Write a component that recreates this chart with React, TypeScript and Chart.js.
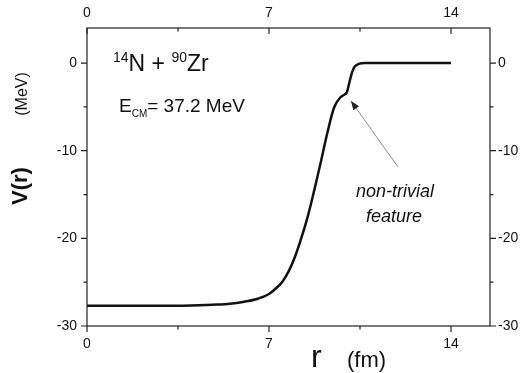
import React, { useEffect, useRef } from "react";
import { Chart, registerables } from "chart.js";

Chart.register(...registerables);

// ---- data ----
const rValues = [0, 1, 2, 3, 4, 5, 5.5, 6, 6.5, 7, 7.25, 7.5, 7.75, 8, 8.25, 8.5, 8.75, 9, 9.25, 9.5, 9.75, 9.9, 10, 10.1, 10.2, 10.3, 10.45, 10.7, 12, 14];
const vValues = [-27.7, -27.7, -27.7, -27.7, -27.65, -27.55, -27.45, -27.25, -26.95, -26.35, -25.75, -25.0, -23.8, -22.1, -19.9, -17.4, -14.4, -11.2, -7.9, -5.1, -3.9, -3.6, -3.3, -2.1, -1.0, -0.4, -0.1, 0, 0, 0];

const xTicks = [0, 7, 14];
const xMinorTicks = [3.5, 10.5];
const yTicks = [-30, -20, -10, 0];
const yMinorTicks = [-25, -15, -5];
const xRange = [0, 15.5];
const yRange = [-30, 4];

const FONT = "'Liberation Sans', Arial, sans-serif";

const overlayPlugin = {
  id: "overlay",
  afterDraw(chart: any) {
    const { ctx, chartArea } = chart;
    const { left, right, top, bottom } = chartArea;
    const xs = chart.scales.x;
    const ys = chart.scales.y;
    ctx.save();
    // frame
    ctx.strokeStyle = "#222";
    ctx.lineWidth = 1.2;
    ctx.strokeRect(left, top, right - left, bottom - top);

    const MAJ = 6;
    const MIN = 3.5;
    ctx.beginPath();
    const hTick = (v: number, len: number) => {
      const px = xs.getPixelForValue(v);
      ctx.moveTo(px, bottom);
      ctx.lineTo(px, bottom + len);
      ctx.moveTo(px, top);
      ctx.lineTo(px, top + len);
    };
    const vTick = (v: number, len: number) => {
      const py = ys.getPixelForValue(v);
      ctx.moveTo(left, py);
      ctx.lineTo(left - len, py);
      ctx.moveTo(right, py);
      ctx.lineTo(right + len, py);
    };
    xTicks.forEach((v) => hTick(v, MAJ));
    xMinorTicks.forEach((v) => hTick(v, MIN));
    yTicks.forEach((v) => vTick(v, MAJ));
    yMinorTicks.forEach((v) => vTick(v, MIN));
    ctx.stroke();

    ctx.fillStyle = "#111";
    ctx.textBaseline = "alphabetic";

    // 14N + 90Zr
    let x = 113;
    const by = 71;
    const big = `23px ${FONT}`;
    const sup = `14px ${FONT}`;
    const seg = (t: string, f: string, dy: number) => {
      ctx.font = f;
      ctx.textAlign = "left";
      ctx.fillText(t, x, by + dy);
      x += ctx.measureText(t).width;
    };
    seg("14", sup, -9);
    seg("N + ", big, 0);
    seg("90", sup, -9);
    seg("Zr", big, 0);

    // E_CM = 37.2 MeV
    x = 119;
    const by2 = 112;
    ctx.font = `19px ${FONT}`;
    ctx.fillText("E", x, by2);
    x += ctx.measureText("E").width;
    ctx.font = `10px ${FONT}`;
    ctx.fillText("CM", x, by2 + 5);
    x += ctx.measureText("CM").width;
    ctx.font = `19px ${FONT}`;
    ctx.fillText("= 37.2 MeV", x, by2);

    // non-trivial feature
    ctx.font = `italic 18px ${FONT}`;
    ctx.textAlign = "center";
    ctx.fillText("non-trivial", 395, 197);
    ctx.fillText("feature", 394, 222);

    // arrow
    const x0 = 398, y0 = 167, x1 = 351, y1 = 101;
    ctx.strokeStyle = "#8a8a8a";
    ctx.lineWidth = 1;
    ctx.beginPath();
    ctx.moveTo(x0, y0);
    ctx.lineTo(x1, y1);
    ctx.stroke();
    const ang = Math.atan2(y1 - y0, x1 - x0);
    const hl = 9, hw = 3.5;
    ctx.fillStyle = "#222";
    ctx.beginPath();
    ctx.moveTo(x1, y1);
    ctx.lineTo(x1 - hl * Math.cos(ang) + hw * Math.sin(ang), y1 - hl * Math.sin(ang) - hw * Math.cos(ang));
    ctx.lineTo(x1 - hl * Math.cos(ang) - hw * Math.sin(ang), y1 - hl * Math.sin(ang) + hw * Math.cos(ang));
    ctx.closePath();
    ctx.fill();

    // axis titles
    ctx.fillStyle = "#111";
    ctx.textAlign = "left";
    ctx.font = `32px ${FONT}`;
    ctx.fillText("r", 311, 367);
    ctx.font = `22px ${FONT}`;
    ctx.fillText("(fm)", 347, 367);

    ctx.save();
    ctx.translate(27, 0);
    ctx.rotate(-Math.PI / 2);
    ctx.textAlign = "center";
    ctx.font = `bold 22px ${FONT}`;
    ctx.fillText("V(r)", -186, 0);
    ctx.font = `16px ${FONT}`;
    ctx.fillText("(MeV)", -94, 0);
    ctx.restore();

    ctx.restore();
  },
};

export default function App() {
  const ref = useRef<HTMLCanvasElement>(null);
  useEffect(() => {
    if (!ref.current) return;
    const tickFont = { family: FONT, size: 14 };
    const grid = { display: false, drawTicks: false };
    const setTicks = (vals: number[]) => (s: any) => {
      s.ticks = vals.map((v) => ({ value: v }));
    };
    const chart = new Chart(ref.current, {
      type: "line",
      data: {
        datasets: [
          {
            data: rValues.map((r, i) => ({ x: r, y: vValues[i] })),
            borderColor: "#111",
            borderWidth: 2.5,
            pointRadius: 0,
            cubicInterpolationMode: "monotone",
            fill: false,
          },
        ],
      },
      options: {
        responsive: false,
        animation: false,
        layout: { padding: 0 },
        plugins: { legend: { display: false }, tooltip: { enabled: false } },
        scales: {
          x: {
            type: "linear",
            position: "bottom",
            min: xRange[0],
            max: xRange[1],
            grid,
            border: { display: false },
            ticks: { font: tickFont, color: "#111", padding: 10, maxRotation: 0 },
            afterBuildTicks: setTicks(xTicks),
            afterFit: (s: any) => { s.height = 47; },
          },
          x2: {
            type: "linear",
            position: "top",
            min: xRange[0],
            max: xRange[1],
            grid,
            border: { display: false },
            ticks: { font: tickFont, color: "#111", padding: 6, maxRotation: 0 },
            afterBuildTicks: setTicks(xTicks),
            afterFit: (s: any) => { s.height = 28; },
          },
          y: {
            type: "linear",
            position: "left",
            min: yRange[0],
            max: yRange[1],
            grid,
            border: { display: false },
            ticks: { font: tickFont, color: "#111", padding: 10 },
            afterBuildTicks: setTicks(yTicks),
            afterFit: (s: any) => { s.width = 87; },
          },
          y2: {
            type: "linear",
            position: "right",
            min: yRange[0],
            max: yRange[1],
            grid,
            border: { display: false },
            ticks: { font: tickFont, color: "#111", padding: 8 },
            afterBuildTicks: setTicks(yTicks),
            afterFit: (s: any) => { s.width = 30; },
          },
        },
      },
      plugins: [overlayPlugin],
    } as any);
    return () => chart.destroy();
  }, []);
  return (
    <div style={{ position: "absolute", left: 0, top: 0, width: 520, height: 373, background: "#fff" }}>
      <canvas ref={ref} width={520} height={373} style={{ display: "block" }} />
    </div>
  );
}
